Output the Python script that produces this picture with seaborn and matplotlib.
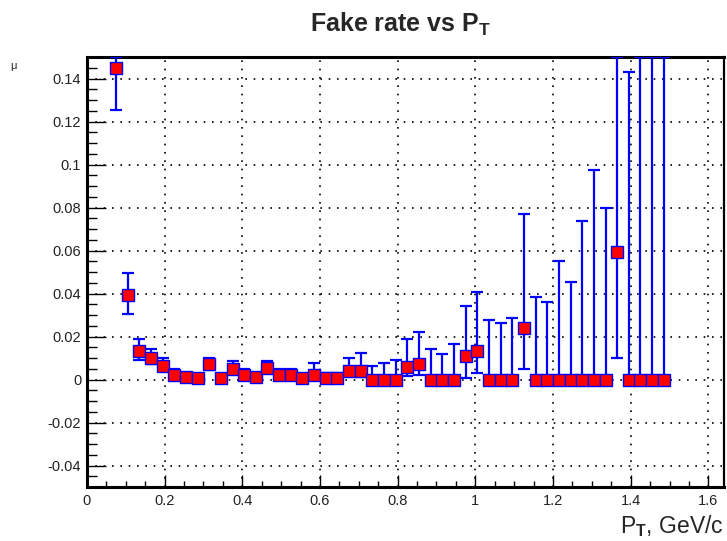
import numpy as np
import pandas as pd
import matplotlib
matplotlib.use("Agg")
import matplotlib.pyplot as plt
from matplotlib.ticker import MultipleLocator, FormatStrFormatter
import seaborn as sns

# Transverse-momentum bins (GeV/c): centres and half-width
pt_center = [0.075, 0.105, 0.135, 0.165, 0.195, 0.225, 0.255, 0.285, 0.315, 0.345,
             0.375, 0.405, 0.435, 0.465, 0.495, 0.525, 0.555, 0.585, 0.615, 0.645,
             0.675, 0.705, 0.735, 0.765, 0.795, 0.825, 0.855, 0.885, 0.915, 0.945,
             0.975, 1.005, 1.035, 1.065, 1.095, 1.125, 1.155, 1.185, 1.215, 1.245,
             1.275, 1.305, 1.335, 1.365, 1.395, 1.425, 1.455, 1.485]
pt_halfwidth = 0.015

# Fake rate per bin with asymmetric uncertainties
fake_rate = [0.1448, 0.0394, 0.0133, 0.0101, 0.0063, 0.0020, 0.0011, 0.0008, 0.0070, 0.0008,
             0.0050, 0.0023, 0.0011, 0.0053, 0.0023, 0.0023, 0.0006, 0.0023, 0.0008, 0.0008,
             0.0040, 0.0039, 0.0, 0.0, 0.0, 0.0058, 0.0070, 0.0, 0.0, 0.0,
             0.0109, 0.0133, 0.0, 0.0, 0.0, 0.0241, 0.0, 0.0, 0.0, 0.0,
             0.0, 0.0, 0.0, 0.0595, 0.0, 0.0, 0.0, 0.0]
err_low = [0.0196, 0.0087, 0.0040, 0.0030, 0.0025, 0.0012, 0.0008, 0.0006, 0.0025, 0.0006,
           0.0020, 0.0012, 0.0008, 0.0020, 0.0012, 0.0012, 0.0005, 0.0015, 0.0006, 0.0006,
           0.0025, 0.0025, 0.0, 0.0, 0.0, 0.0040, 0.0050, 0.0, 0.0, 0.0,
           0.0100, 0.0102, 0.0, 0.0, 0.0, 0.0194, 0.0, 0.0, 0.0, 0.0,
           0.0, 0.0, 0.0, 0.0497, 0.0, 0.0, 0.0, 0.0]
err_high = [0.0196, 0.0100, 0.0054, 0.0042, 0.0035, 0.0027, 0.0020, 0.0018, 0.0031, 0.0018,
            0.0036, 0.0025, 0.0020, 0.0033, 0.0025, 0.0025, 0.0018, 0.0055, 0.0020, 0.0020,
            0.0060, 0.0086, 0.0062, 0.0075, 0.0089, 0.0129, 0.0151, 0.0140, 0.0120, 0.0163,
            0.0234, 0.0272, 0.0276, 0.0263, 0.0285, 0.0527, 0.0385, 0.0361, 0.0550, 0.0452,
            0.0737, 0.0976, 0.0799, 0.1200, 0.1430, 0.2000, 0.2000, 0.2000]

x_ticks = [0, 0.2, 0.4, 0.6, 0.8, 1.0, 1.2, 1.4, 1.6]
y_ticks = [-0.04, -0.02, 0, 0.02, 0.04, 0.06, 0.08, 0.1, 0.12, 0.14]
X_RANGE = (0.0, 1.64)
Y_RANGE = (-0.05, 0.15)

df = pd.DataFrame({"pt": pt_center, "rate": fake_rate,
                   "lo": err_low, "hi": err_high})

sns.set_theme(style="white")
plt.rcParams["font.family"] = ["Liberation Sans", "DejaVu Sans"]
plt.rcParams["mathtext.fontset"] = "custom"
plt.rcParams["mathtext.rm"] = "Liberation Sans"
plt.rcParams["mathtext.it"] = "Liberation Sans"
plt.rcParams["mathtext.bf"] = "Liberation Sans:bold"
plt.rcParams["axes.unicode_minus"] = False

fig = plt.figure(figsize=(7.27, 5.41), dpi=100)
ax = fig.add_axes([0.1194, 0.0998, 0.8765, 0.7948])
ax.set_xlim(*X_RANGE)
ax.set_ylim(*Y_RANGE)

# Dotted grid at the major ticks
ax.set_xticks(x_ticks)
ax.set_yticks(y_ticks)
ax.xaxis.set_minor_locator(MultipleLocator(0.05))
ax.yaxis.set_minor_locator(MultipleLocator(0.005))
ax.grid(True, which="major", color="black", linestyle=(0, (1, 4)), linewidth=1.2)
ax.set_axisbelow(True)

blue = "#0000ff"
# Error bars clipped to the frame, caps drawn at the edge like ROOT
upper_shown = np.minimum(df["rate"] + df["hi"], Y_RANGE[1]) - df["rate"]
ax.errorbar(df["pt"], df["rate"], yerr=[df["lo"], upper_shown], fmt="none",
            ecolor=blue, elinewidth=1.6, capsize=4.3, capthick=1.6, zorder=3)
ax.errorbar(df["pt"], df["rate"], xerr=pt_halfwidth, fmt="none",
            ecolor=blue, elinewidth=1.6, capsize=0, zorder=3)

sns.scatterplot(data=df, x="pt", y="rate", ax=ax, marker="s", s=70,
                color="#ff0000", edgecolor=blue, linewidth=1.0, zorder=4,
                legend=False)

ax.set_xlabel("")
ax.set_ylabel("")
ax.xaxis.set_major_formatter(FormatStrFormatter("%g"))
ax.yaxis.set_major_formatter(FormatStrFormatter("%g"))
ax.tick_params(axis="y", which="major", direction="in", length=14, width=1.0,
               labelsize=10.5, pad=4, left=True, right=False, color="black")
ax.tick_params(axis="y", which="minor", direction="in", length=7, width=1.0,
               left=True, right=False, color="black")
ax.tick_params(axis="x", which="major", direction="in", length=8.5, width=1.0,
               labelsize=10.5, pad=5, bottom=True, top=False, color="black")
ax.tick_params(axis="x", which="minor", direction="in", length=4.5, width=1.0,
               bottom=True, top=False, color="black")
for lab in ax.get_xticklabels() + ax.get_yticklabels():
    lab.set_color("#222222")

for side, lw in (("left", 2.2), ("bottom", 2.2), ("top", 2.2), ("right", 1.6)):
    ax.spines[side].set_visible(True)
    ax.spines[side].set_color("black")
    ax.spines[side].set_linewidth(lw)

fig.text(400 / 727, 1 - 24 / 541, r"Fake rate vs P$_{\mathbf{T}}$",
         ha="center", va="center", fontsize=18, fontweight="bold")
fig.text(724 / 727, 1 - 533 / 541, r"P$_{\mathbf{T}}$, GeV/c",
         ha="right", va="baseline", fontsize=16.5)
fig.text(10 / 727, 1 - 66 / 541, "μ", ha="left", va="center", fontsize=8)

fig.savefig("out.png", dpi=100)
